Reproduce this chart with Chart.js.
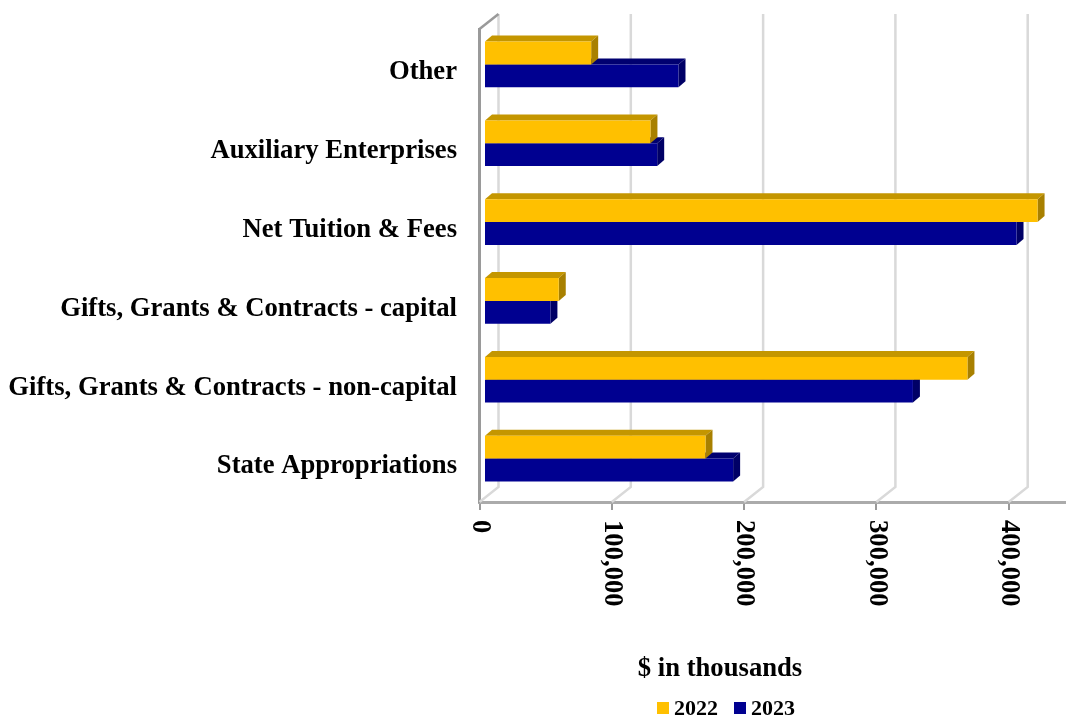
<!DOCTYPE html>
<html>
<head>
<meta charset="utf-8">
<style>
  html, body { margin: 0; padding: 0; background: #fff; }
  #wrap { width: 1066px; height: 717px; }
</style>
</head>
<body>
<div id="wrap"><canvas id="chart" width="1066" height="717"></canvas></div>
<script src="https://cdn.jsdelivr.net/npm/chart.js@4/dist/chart.umd.min.js"></script>
<script>
const categories = [
  'Other',
  'Auxiliary Enterprises',
  'Net Tuition & Fees',
  'Gifts, Grants & Contracts - capital',
  'Gifts, Grants & Contracts - non-capital',
  'State Appropriations'
];
const values2022 = [81000, 125800, 418400, 56500, 365400, 167400];
const values2023 = [147000, 130900, 402500, 50200, 324200, 188300];
const xTicks = [0, 100000, 200000, 300000, 400000];

const FONT = '"Liberation Serif", "Times New Roman", serif';
const AXIS_GREY = '#9a9a9a';
const WALL_GREY = '#d9d9d9';

// depth of the fake 3D box
const wallDx = 19, wallDy = -15;
const barDx = 7, barDy = -6;
const barShiftX = 4.5, barShiftY = -4;

const topFace = ['#c49600', '#000070'];
const sideFace = ['#a88000', '#000066'];

function poly(ctx, pts, color) {
  ctx.fillStyle = color;
  ctx.beginPath();
  pts.forEach((p, i) => i ? ctx.lineTo(p[0], p[1]) : ctx.moveTo(p[0], p[1]));
  ctx.closePath();
  ctx.fill();
}

const backWall = {
  id: 'backWall',
  beforeDatasetsDraw(chart) {
    const { ctx, chartArea, scales } = chart;
    ctx.save();
    ctx.lineWidth = 2.5;
    // back grid and floor diagonals
    scales.x.ticks.forEach((t, i) => {
      const px = scales.x.getPixelForValue(t.value);
      ctx.strokeStyle = WALL_GREY;
      ctx.beginPath();
      ctx.moveTo(px, chartArea.bottom);
      ctx.lineTo(px + wallDx, chartArea.bottom + wallDy);
      ctx.lineTo(px + wallDx, chartArea.top + wallDy);
      ctx.stroke();
    });
    // top edge of the side wall
    const left = scales.x.getPixelForValue(0);
    ctx.strokeStyle = AXIS_GREY;
    ctx.beginPath();
    ctx.moveTo(left, chartArea.top);
    ctx.lineTo(left + wallDx, chartArea.top + wallDy);
    ctx.stroke();
    ctx.restore();
  },
  beforeDatasetDraw(chart, args) {
    const ctx = chart.ctx;
    ctx.save();
    ctx.translate(barShiftX, barShiftY);
    chart.getDatasetMeta(args.index).data.forEach(bar => {
      const top = bar.y - bar.height / 2;
      const bottom = bar.y + bar.height / 2;
      poly(ctx, [[bar.base, top], [bar.base + barDx, top + barDy], [bar.x + barDx, top + barDy], [bar.x, top]], topFace[args.index]);
      poly(ctx, [[bar.x, top], [bar.x + barDx, top + barDy], [bar.x + barDx, bottom + barDy], [bar.x, bottom]], sideFace[args.index]);
    });
  },
  afterDatasetDraw(chart) {
    chart.ctx.restore();
  },
  afterDraw(chart) {
    const { ctx, chartArea, scales } = chart;
    ctx.save();
    ctx.fillStyle = '#000';
    ctx.font = 'bold 26.67px ' + FONT;
    ctx.textBaseline = 'middle';
    // category labels sit a bit below the band centres
    ctx.textAlign = 'right';
    categories.forEach((c, i) => {
      ctx.fillText(c, 457, scales.y.getPixelForTick(i) + 4);
    });
    // x labels read downwards, which the axis cannot do by itself
    ctx.textAlign = 'left';
    scales.x.ticks.forEach(t => {
      ctx.save();
      ctx.translate(scales.x.getPixelForValue(t.value), chartArea.bottom + 18);
      ctx.rotate(Math.PI / 2);
      ctx.fillText(t.value.toLocaleString('en-US'), 0, 0);
      ctx.restore();
    });
    // axis title and legend sit left of the plot centre
    ctx.textAlign = 'center';
    ctx.fillText('$ in thousands', 720, 669);
    ctx.font = 'bold 22px ' + FONT;
    ctx.textAlign = 'left';
    chart.data.datasets.forEach((ds, i) => {
      const x = 657 + i * 77;
      ctx.fillStyle = ds.backgroundColor;
      ctx.fillRect(x, 702, 12, 12);
      ctx.fillStyle = '#000';
      ctx.fillText(ds.label, x + 17, 709);
    });
    ctx.restore();
  }
};

new Chart(document.getElementById('chart'), {
  type: 'bar',
  data: {
    labels: categories,
    datasets: [
      { label: '2022', data: values2022, backgroundColor: '#ffc000', categoryPercentage: 0.58, barPercentage: 1 },
      { label: '2023', data: values2023, backgroundColor: '#000090', categoryPercentage: 0.58, barPercentage: 1 }
    ]
  },
  options: {
    indexAxis: 'y',
    responsive: false,
    animation: false,
    layout: { padding: { top: 29, left: 0, right: 0, bottom: 0 } },
    clip: false,
    scales: {
      x: {
        min: 0,
        max: 443300,
        afterBuildTicks(scale) { scale.ticks = xTicks.map(v => ({ value: v })); },
        afterFit(scale) { scale.height = 215; },
        ticks: { display: false },
        grid: { drawOnChartArea: false, drawTicks: true, tickLength: 8, color: AXIS_GREY, lineWidth: 2 },
        border: { display: true, color: '#ababab', width: 3 }
      },
      y: {
        afterFit(scale) { scale.width = 479.5; },
        ticks: { display: false },
        grid: { display: false, drawTicks: false },
        border: { display: true, color: AXIS_GREY, width: 3 }
      }
    },
    plugins: {
      tooltip: { enabled: false },
      legend: { display: false }
    }
  },
  plugins: [backWall]
});
</script>
</body>
</html>
